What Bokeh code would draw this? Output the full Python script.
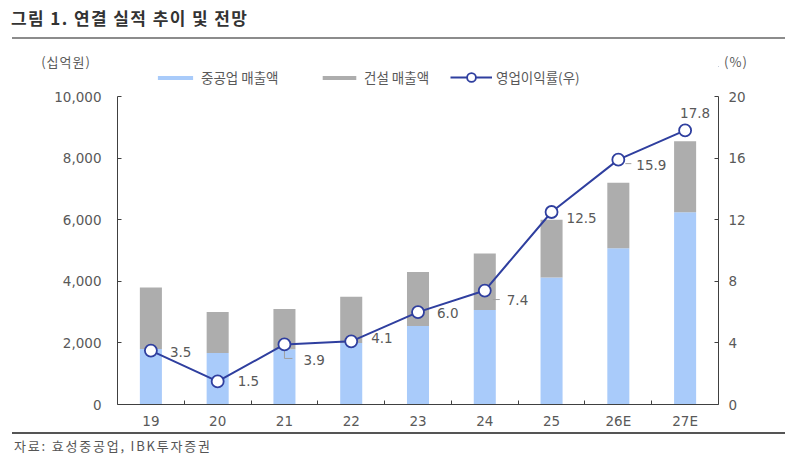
from bokeh.plotting import figure
from bokeh.layouts import column
from bokeh.models import (Range1d, LinearAxis, FixedTicker, Legend, LegendItem,
                          ColumnDataSource, NumeralTickFormatter, Div)
from bokeh.core.properties import value
from bokeh.embed import file_html
from bokeh.resources import INLINE

# ---- data (십억원, %) ----
categories = ["19", "20", "21", "22", "23", "24", "25", "26E", "27E"]
heavy_sales = [1800, 1670, 1790, 2000, 2550, 3070, 4120, 5070, 6240]    # 중공업 매출액
constr_sales = [2000, 1330, 1310, 1500, 1750, 1830, 1880, 2130, 2310]   # 건설 매출액
op_margin = [3.5, 1.5, 3.9, 4.1, 6.0, 7.4, 12.5, 15.9, 17.8]           # 영업이익률(우)
left_ticks = [0, 2000, 4000, 6000, 8000, 10000]
right_ticks = [0, 4, 8, 12, 16, 20]

# label placement (screen px from each marker)
label_dx = [19, 20, 19, 20, 19, 22, 15, 18, -5]
label_dy = [1, 0, 16, -3, 1, 9, 6, 5, -17]

# ---- page blocks, top to bottom ----
W = 800
HEAD_H = 66     # title, rule, unit captions
KEY_H = 22      # legend row
MAIN_H = 344    # chart
FOOT_H = 42     # rule + source
FL, FR = 117, 718
TOP_PAD, BOT_PAD = 8, 28

BLUE = "#A9CBFA"
GREY = "#ADADAD"
NAVY = "#2F3F9F"
TXT = "#595959"
AXIS = "#404040"
NUM_FONT = "DejaVu Sans"
KR_FONT = "Noto Sans CJK KR"

xs = list(range(len(categories)))
totals = [a + b for a, b in zip(heavy_sales, constr_sales)]
src = ColumnDataSource(dict(
    x=xs, heavy=heavy_sales, total=totals, margin=op_margin,
    lbl=[f"{v:.1f}" for v in op_margin], dx=label_dx, dy=label_dy,
))

# ---------------- main chart ----------------
p = figure(width=W, height=MAIN_H, output_backend="svg", toolbar_location=None,
           x_range=Range1d(-0.5, len(categories) - 0.5),
           y_range=Range1d(left_ticks[0], left_ticks[-1]),
           min_border_left=FL, min_border_right=W - FR,
           min_border_top=TOP_PAD, min_border_bottom=BOT_PAD, margin=0)
p.outline_line_color = None
p.grid.visible = False
p.background_fill_color = "white"
p.border_fill_color = "white"
p.extra_y_ranges = {"pct": Range1d(right_ticks[0], right_ticks[-1])}

# x axis: labels under each year, small ticks between years
xa = p.xaxis[0]
xa.ticker = FixedTicker(ticks=xs, minor_ticks=[i + 0.5 for i in xs[:-1]])
xa.major_label_overrides = {i: c for i, c in zip(xs, categories)}
xa.major_tick_in = 0
xa.major_tick_out = 0
xa.minor_tick_in = 4
xa.minor_tick_out = 0
xa.major_label_standoff = 8

ya = p.yaxis[0]
ya.ticker = FixedTicker(ticks=left_ticks)
ya.formatter = NumeralTickFormatter(format="0,0")
ya.major_tick_in = 4
ya.major_tick_out = 0
ya.minor_tick_in = 0
ya.minor_tick_out = 0
ya.major_label_standoff = 16

ra = LinearAxis(y_range_name="pct", ticker=FixedTicker(ticks=right_ticks))
ra.major_tick_in = 4
ra.major_tick_out = 0
ra.minor_tick_in = 0
ra.minor_tick_out = 0
ra.major_label_standoff = 10
p.add_layout(ra, "right")

for ax in (xa, ya, ra):
    ax.axis_line_color = AXIS
    ax.major_tick_line_color = AXIS
    ax.minor_tick_line_color = AXIS
    ax.major_label_text_font = NUM_FONT
    ax.major_label_text_font_size = "13.5px"
    ax.major_label_text_color = TXT

bar_style = dict(width=0.33, line_color=None)
line_style = dict(line_color=NAVY, line_width=2)
dot_style = dict(fill_color="white", line_color=NAVY, line_width=1.8)

# stacked bars
p.vbar(x="x", top="heavy", bottom=0, source=src, fill_color=BLUE, **bar_style)
p.vbar(x="x", bottom="heavy", top="total", source=src, fill_color=GREY, **bar_style)

# leader lines for a few labels (pixel lengths converted to data units)
px_x = (FR - FL) / len(categories)
px_y = (MAIN_H - TOP_PAD - BOT_PAD) / (right_ticks[-1] - right_ticks[0])
lead = {2: [(0, 0, 0, 14), (0, 14, 8, 14)], 5: [(8, 9, 15, 9)], 7: [(7, 4, 13, 4)]}
sx0, sy0, sx1, sy1 = [], [], [], []
for i, segs in lead.items():
    for a, b, c, d in segs:
        sx0.append(xs[i] + a / px_x); sy0.append(op_margin[i] - b / px_y)
        sx1.append(xs[i] + c / px_x); sy1.append(op_margin[i] - d / px_y)
p.segment(sx0, sy0, sx1, sy1, y_range_name="pct", line_color="#A0A0A0", line_width=1)

# operating margin line
p.line(x="x", y="margin", source=src, y_range_name="pct", **line_style)
p.scatter(x="x", y="margin", source=src, y_range_name="pct", size=12, **dot_style)
p.text(x="x", y="margin", text="lbl", x_offset="dx", y_offset="dy", source=src,
       y_range_name="pct", text_font=value(NUM_FONT), text_font_size="13.5px",
       text_color=TXT, text_align="left", text_baseline="middle")

# ---------------- legend strip ----------------
# same series and styles as the chart; the strip's ranges sit away from the data
k = figure(width=W, height=KEY_H, output_backend="svg", toolbar_location=None,
           x_axis_type=None, y_axis_type=None,
           x_range=Range1d(-30, -20), y_range=Range1d(-30, -20),
           min_border_left=FL, min_border_right=W - FR,
           min_border_top=0, min_border_bottom=0, margin=0)
k.outline_line_color = None
k.grid.visible = False
k.background_fill_color = None
k.border_fill_color = None

k_heavy = k.vbar(x="x", top="heavy", bottom=0, source=src, fill_color=BLUE, **bar_style)
k_con = k.vbar(x="x", bottom="heavy", top="total", source=src, fill_color=GREY, **bar_style)
k_line = k.line(x="x", y="margin", source=src, **line_style)
k_dot = k.scatter(x="x", y="margin", source=src, size=11, **dot_style)

def add_key(label, rends, x, gw, gh):
    lg = Legend(items=[LegendItem(label=label, renderers=rends)],
                location=(x - FL, 0), orientation="horizontal",
                glyph_width=gw, glyph_height=gh, label_standoff=4,
                label_text_font=KR_FONT, label_text_font_size="13.5px",
                label_text_color=TXT, label_height=KEY_H,
                padding=0, margin=0, spacing=0,
                border_line_color=None, background_fill_alpha=0)
    k.add_layout(lg, "center")

add_key("중공업 매출액", [k_heavy], 153, 44, 5)
add_key("건설 매출액", [k_con], 318, 42, 5)
add_key("영업이익률(우)", [k_line, k_dot], 450, 42, 22)

# ---------------- header and footer ----------------
cap = f"position:absolute;top:56px;font-size:13px;color:{TXT};line-height:12px;white-space:nowrap;letter-spacing:1px;"
header = Div(width=W, height=HEAD_H, margin=0, text=f"""
<div style="position:relative;width:{W}px;height:{HEAD_H}px;font-family:'{KR_FONT}';">
  <div style="position:absolute;left:11px;top:6px;font-size:17px;font-weight:bold;letter-spacing:1.4px;
              color:#333333;line-height:24px;white-space:nowrap;">그림 1. 연결 실적 추이 및 전망</div>
  <div style="position:absolute;left:12px;top:37px;width:773px;height:2px;background:#8C8C8C;"></div>
  <div style="{cap}left:36px;width:60px;text-align:center;">(십억원)</div>
  <div style="{cap}left:716px;width:40px;text-align:center;">(%)</div>
</div>""")

footer = Div(width=W, height=FOOT_H, margin=0, text=f"""
<div style="position:relative;width:{W}px;height:{FOOT_H}px;font-family:'{KR_FONT}';">
  <div style="position:absolute;left:12px;top:0px;width:773px;height:2px;background:#555555;"></div>
  <div style="position:absolute;left:14px;top:5px;font-size:13px;color:#555555;letter-spacing:1.8px;
              line-height:18px;white-space:nowrap;">자료: 효성중공업, IBK투자증권</div>
</div>""")

page = column(header, k, p, footer, spacing=0)
open("out.html", "w").write(file_html(page, INLINE))
